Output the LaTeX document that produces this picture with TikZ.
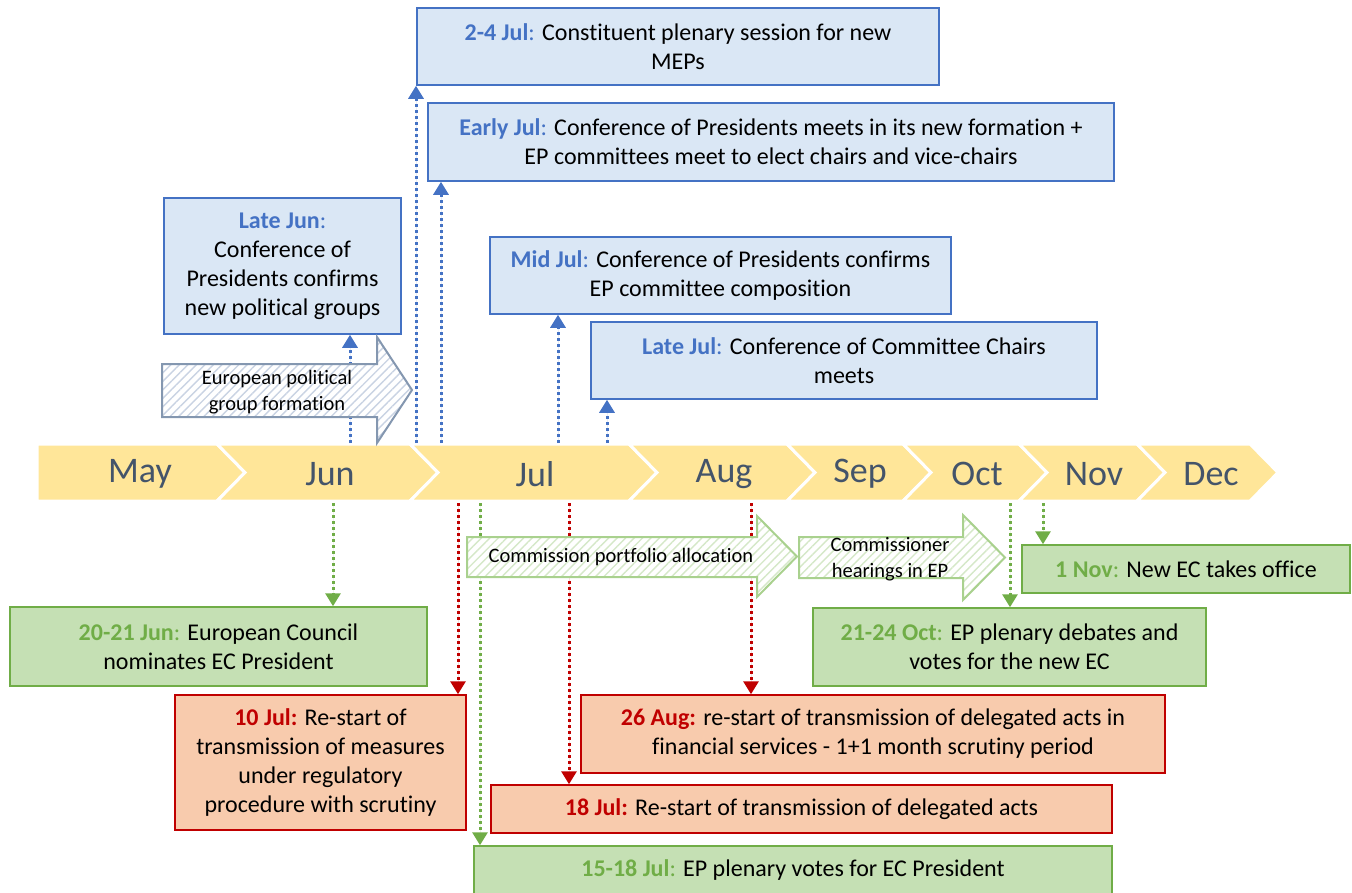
\documentclass[tikz,border=0pt]{standalone}
\usepackage{fontspec}
\setmainfont{Carlito}[Ligatures=CommonOff]
\usetikzlibrary{arrows.meta,patterns.meta}

\definecolor{epblue}{HTML}{4472C4}
\definecolor{epbluefill}{HTML}{DAE7F5}
\definecolor{epgreen}{HTML}{70AD47}
\definecolor{epgreenfill}{HTML}{C5E0B4}
\definecolor{epred}{HTML}{C00000}
\definecolor{epredfill}{HTML}{F8CBAD}
\definecolor{bandyellow}{HTML}{FFE699}
\definecolor{monthgrey}{HTML}{44546A}
\definecolor{shapegrey}{HTML}{8497B0}
\definecolor{hatchgrey}{HTML}{C9D3E3}
\definecolor{shapegreen}{HTML}{A9D18E}
\definecolor{hatchgreen}{HTML}{D5E8C8}

\newcommand{\bluedate}[1]{\textcolor{epblue}{\textbf{#1}:}}
\newcommand{\greendate}[1]{\textcolor{epgreen}{\textbf{#1}:}}
\newcommand{\reddate}[1]{\textcolor{epred}{\textbf{#1:}}}

\tikzset{
  band/.style={fill=bandyellow, draw=white, line width=3pt, line join=miter},
  month/.style={text=monthgrey, font=\fontsize{36}{40}\selectfont, inner sep=0pt},
  box/.style={draw, line width=1.5pt, align=center, inner sep=2pt,
    font=\fontsize{24}{29}\selectfont},
  bluebox/.style={box, draw=epblue, fill=epbluefill},
  greenbox/.style={box, draw=epgreen, fill=epgreenfill},
  redbox/.style={box, draw=epred, fill=epredfill},
  link/.style={line width=3pt, dash pattern=on 3pt off 3pt,
    -{Triangle[width=15pt,length=13pt]}},
  bluelink/.style={link, draw=epblue, fill=epblue},
  greenlink/.style={link, draw=epgreen, fill=epgreen},
  redlink/.style={link, draw=epred, fill=epred},
  greyshape/.style={draw=shapegrey, line width=2pt, line join=miter,
    preaction={fill=white},
    pattern={Lines[angle=45,distance=6pt,line width=1.4pt]}, pattern color=hatchgrey},
  greenshape/.style={draw=shapegreen, line width=2pt, line join=miter,
    preaction={fill=white},
    pattern={Lines[angle=45,distance=6pt,line width=1.4pt]}, pattern color=hatchgreen},
  shapetext/.style={align=center, inner sep=0pt, font=\fontsize{20.5}{26}\selectfont}
}

\begin{document}
\begin{tikzpicture}[x=1pt,y=-1pt]
  \useasboundingbox (0,0) rectangle (1352,892);
  \clip (0,0) rectangle (1352,892);

  % months
  \draw[band] (37,444) -- (217,444) -- (245,472.5) -- (217,501) -- (37,501) -- cycle;
  \foreach \a/\b in {217/410,410/629,629/787,787/903,903/1019,1019/1137,1137/1250}
    \draw[band] (\a,444) -- (\b,444) -- (\b+28,472.5) -- (\b,501) -- (\a,501) -- (\a+28,472.5) -- cycle;
  \foreach \m/\x in {May/140,Jun/330,Jul/535,Aug/724,Sep/860,Oct/977,Nov/1094,Dec/1211}
    \node[month] (\m) at (\x,474) {\m};

  % parliament
  \node[bluebox, minimum width=522pt, minimum height=77pt] (plenary) at (678,46.5)
    {\bluedate{2-4 Jul} Constituent plenary session for new\\MEPs};
  \node[bluebox, minimum width=686pt, minimum height=78pt] (cop) at (771,142)
    {\bluedate{Early Jul} Conference of Presidents meets in its new formation +\\EP committees meet to elect chairs and vice-chairs};
  \node[bluebox, minimum width=237pt, minimum height=136pt] (groups) at (282.5,266)
    {\bluedate{Late Jun}\\Conference of\\Presidents confirms\\new political groups};
  \node[bluebox, minimum width=461pt, minimum height=77pt] (committees) at (720.5,275.5)
    {\bluedate{Mid Jul} Conference of Presidents confirms\\EP committee composition};
  \node[bluebox, minimum width=506pt, minimum height=77pt] (chairs) at (844,360.5)
    {\bluedate{Late Jul} Conference of Committee Chairs\\meets};

  % commission
  \node[greenbox, minimum width=417pt, minimum height=79pt] (council) at (218.5,646.5)
    {\greendate{20-21 Jun} European Council\\nominates EC President};
  \node[greenbox, minimum width=328pt, minimum height=48pt] (office) at (1186,569)
    {\greendate{1 Nov} New EC takes office};
  \node[greenbox, minimum width=393pt, minimum height=78pt] (vote) at (1009.5,647)
    {\greendate{21-24 Oct} EP plenary debates and\\votes for the new EC};
  \node[greenbox, minimum width=638pt, minimum height=48pt] (president) at (793,870)
    {\greendate{15-18 Jul} EP plenary votes for EC President};

  % transmission
  \node[redbox, minimum width=291pt, minimum height=135pt] (rps) at (320.5,762.5)
    {\reddate{10 Jul} Re-start of\\transmission of measures\\under regulatory\\procedure with scrutiny};
  \node[redbox, minimum width=584pt, minimum height=78pt] (finserv) at (873,734)
    {\reddate{26 Aug} re-start of transmission of delegated acts in\\financial services - 1+1 month scrutiny period};
  \node[redbox, minimum width=621pt, minimum height=48pt] (delegated) at (801.5,809)
    {\reddate{18 Jul} Re-start of transmission of delegated acts};

  \coordinate (up1) at (350,443);
  \coordinate (up2) at (416,443);
  \coordinate (up3) at (441,443);
  \coordinate (up4) at (558,443);
  \coordinate (up5) at (607,443);
  \draw[bluelink] (up1) -- (up1 |- groups.south);
  \draw[bluelink] (up2) -- (up2 |- plenary.south);
  \draw[bluelink] (up3) -- (up3 |- cop.south);
  \draw[bluelink] (up4) -- (up4 |- committees.south);
  \draw[bluelink] (up5) -- (up5 |- chairs.south);

  \coordinate (down1) at (333,503);
  \coordinate (down2) at (458,503);
  \coordinate (down3) at (480,503);
  \coordinate (down4) at (569,503);
  \coordinate (down5) at (751,503);
  \coordinate (down6) at (1010,503);
  \coordinate (down7) at (1043,503);
  \draw[greenlink] (down1) -- (down1 |- council.north);
  \draw[redlink] (down2) -- (down2 |- rps.north);
  \draw[greenlink] (down3) -- (down3 |- president.north);
  \draw[redlink] (down4) -- (down4 |- delegated.north);
  \draw[redlink] (down5) -- (down5 |- finserv.north);
  \draw[greenlink] (down6) -- (down6 |- vote.north);
  \draw[greenlink] (down7) -- (down7 |- office.north);

  % phases
  \draw[greyshape] (162,364) -- (377,364) -- (377,337) -- (412,390) -- (377,443) -- (377,417) -- (162,417) -- cycle;
  \node[shapetext] (formation) at (277,392) {European political\\group formation};
  \draw[greenshape] (467,537) -- (757,537) -- (757,516) -- (797,556.5) -- (757,597) -- (757,577) -- (467,577) -- cycle;
  \node[shapetext] (portfolio) at (621,557) {Commission portfolio allocation};
  \draw[greenshape] (799,537) -- (963,537) -- (963,515) -- (1005,557.5) -- (963,600) -- (963,578) -- (799,578) -- cycle;
  \node[shapetext] (hearings) at (890,559) {Commissioner\\hearings in EP};
\end{tikzpicture}
\end{document}
